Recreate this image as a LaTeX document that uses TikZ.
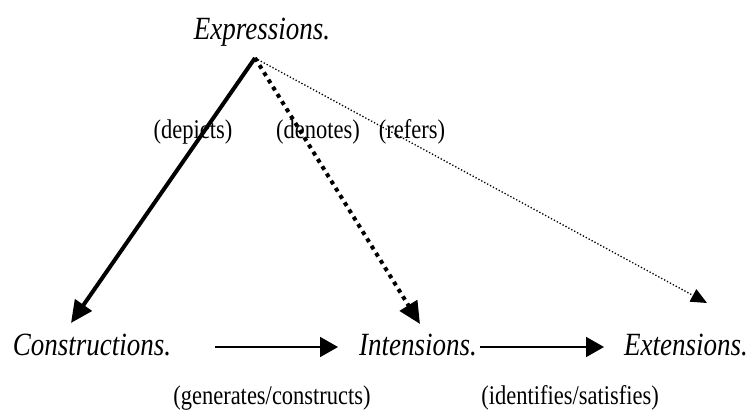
\documentclass[tikz,border=0pt]{standalone}
\usepackage{fontspec}
\usepackage{graphicx}
\setmainfont{Liberation Serif}
\usetikzlibrary{arrows.meta}
\newcommand{\tallt}[1]{\scalebox{1}[1.2]{#1}}
\begin{document}
\begin{tikzpicture}[x=1pt,y=-1pt,
  term/.style={font=\fontsize{27}{30}\selectfont\itshape, inner sep=0pt, anchor=base},
  lbl/.style={font=\fontsize{22.5}{26}\selectfont, inner sep=0pt, anchor=base},
  bigtip/.style={-{Triangle[length=22pt,width=20pt]}},
  midtip/.style={-{Triangle[length=16pt,width=14pt]}},
  htip/.style={-{Triangle[length=18pt,width=20pt]}}]
\useasboundingbox (0,0) rectangle (750,417);
\node[term] (expr) at (262,40) {\tallt{Expressions.}};
\node[term] (cons) at (92,355) {\tallt{Constructions.}};
\node[term] (int) at (418,355) {\tallt{Intensions.}};
\node[term] (ext) at (686,355) {\tallt{Extensions.}};
\coordinate (apex) at (255,58);
\coordinate (tc) at (71,323);
\coordinate (ti) at (420,324);
\coordinate (te) at (707,303);
\coordinate (a1) at (215,347);
\coordinate (b1) at (338,347);
\coordinate (a2) at (480,347);
\coordinate (b2) at (604,347);
\draw[line width=4pt, bigtip] (apex) -- (tc);
\draw[line width=4pt, dash pattern=on 4pt off 4.5pt, bigtip] (apex) -- (ti);
\draw[line width=1.3pt, dotted, midtip] (apex) -- (te);
\draw[line width=1.8pt, htip] (a1) -- (b1);
\draw[line width=1.8pt, htip] (a2) -- (b2);
\node[lbl] (dep) at (193,139) {\tallt{(depicts)}};
\node[lbl] (den) at (318,139) {\tallt{(denotes)}};
\node[lbl] (ref) at (412,139) {\tallt{(refers)}};
\node[lbl] (gen) at (272,404) {\tallt{(generates/constructs)}};
\node[lbl] (ide) at (570,404) {\tallt{(identifies/satisfies)}};
\end{tikzpicture}
\end{document}
